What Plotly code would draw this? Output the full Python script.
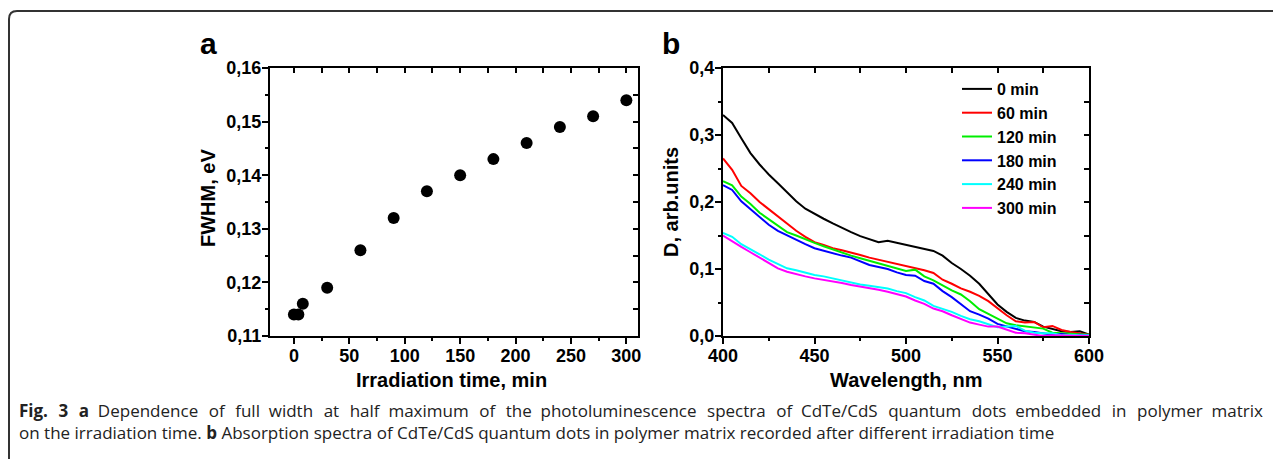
import plotly.graph_objects as go

# ---------------- data: panel a ----------------
irr_time = [0, 4, 8, 30, 60, 90, 120, 150, 180, 210, 240, 270, 300]
fwhm = [0.114, 0.114, 0.116, 0.119, 0.126, 0.132, 0.137, 0.140, 0.143, 0.146, 0.149, 0.151, 0.154]

# ---------------- data: panel b ----------------
wavelength = [400, 405, 410, 415, 420, 425, 430, 435, 440, 445, 450, 455, 460, 465, 470,
              475, 480, 485, 490, 495, 500, 505, 510, 515, 520, 525, 530, 535, 540, 545,
              550, 555, 560, 565, 570, 575, 580, 585, 590, 595, 600]
d_0min = [0.330, 0.318, 0.295, 0.273, 0.256, 0.241, 0.228, 0.215, 0.201, 0.190, 0.182, 0.175,
          0.168, 0.161, 0.155, 0.149, 0.144, 0.140, 0.142, 0.139, 0.136, 0.134, 0.130, 0.127,
          0.120, 0.109, 0.100, 0.090, 0.078, 0.063, 0.047, 0.036, 0.027, 0.023, 0.021, 0.014,
          0.011, 0.007, 0.006, 0.007, 0.002]
d_60min = [0.265, 0.248, 0.224, 0.213, 0.200, 0.189, 0.178, 0.167, 0.157, 0.148, 0.140, 0.136,
           0.131, 0.128, 0.125, 0.121, 0.117, 0.114, 0.111, 0.107, 0.104, 0.102, 0.098, 0.094,
           0.084, 0.078, 0.071, 0.066, 0.060, 0.052, 0.041, 0.031, 0.022, 0.020, 0.021, 0.013,
           0.015, 0.009, 0.006, 0.004, 0.002]
d_120min = [0.231, 0.225, 0.208, 0.197, 0.184, 0.174, 0.164, 0.155, 0.150, 0.144, 0.139, 0.134,
            0.129, 0.125, 0.120, 0.116, 0.112, 0.108, 0.105, 0.100, 0.097, 0.099, 0.089, 0.083,
            0.075, 0.068, 0.062, 0.052, 0.040, 0.033, 0.025, 0.019, 0.016, 0.014, 0.013, 0.011,
            0.005, 0.004, 0.004, 0.003, 0.002]
d_180min = [0.225, 0.218, 0.201, 0.189, 0.177, 0.166, 0.157, 0.150, 0.144, 0.137, 0.131, 0.127,
            0.124, 0.120, 0.117, 0.112, 0.106, 0.103, 0.100, 0.095, 0.091, 0.090, 0.082, 0.078,
            0.067, 0.058, 0.048, 0.037, 0.032, 0.026, 0.018, 0.014, 0.011, 0.007, 0.006, 0.004,
            0.002, 0.003, 0.001, 0.002, 0.001]
d_240min = [0.154, 0.148, 0.137, 0.130, 0.122, 0.114, 0.107, 0.101, 0.098, 0.094, 0.091, 0.089,
            0.086, 0.083, 0.079, 0.077, 0.075, 0.073, 0.071, 0.067, 0.064, 0.058, 0.053, 0.045,
            0.041, 0.036, 0.030, 0.025, 0.022, 0.017, 0.013, 0.014, 0.015, 0.008, 0.005, 0.004,
            0.004, 0.001, 0.002, 0.001, 0.001]
d_300min = [0.150, 0.141, 0.133, 0.125, 0.117, 0.108, 0.101, 0.096, 0.092, 0.089, 0.086, 0.084,
            0.081, 0.079, 0.076, 0.074, 0.071, 0.069, 0.066, 0.062, 0.059, 0.053, 0.048, 0.041,
            0.037, 0.031, 0.026, 0.020, 0.017, 0.014, 0.014, 0.009, 0.005, 0.004, 0.002, 0.000,
            0.001, 0.001, 0.000, 0.001, 0.000]

series_names = ["0 min", "60 min", "120 min", "180 min", "240 min", "300 min"]
series_values = [d_0min, d_60min, d_120min, d_180min, d_240min, d_300min]
series_colors = ["#000000", "#ff0000", "#00ee00", "#0000ff", "#00ffff", "#ff00ff"]

caption1_bold_words = ["Fig.", "3", "a"]
caption1_words = ["Dependence", "of", "full", "width", "at", "half", "maximum", "of", "the",
                  "photoluminescence", "spectra", "of", "CdTe/CdS", "quantum", "dots",
                  "embedded", "in", "polymer", "matrix"]
caption_line2 = ("on the irradiation time. <b>b</b> Absorption spectra of CdTe/CdS quantum dots in "
                 "polymer matrix recorded after different irradiation time")

W, H = 1281, 459
OX, OY = 8, 8  # page body offset


def px(x):
    return (x - OX) / W


def py(y):
    return 1 - (y - OY) / H


AX_FONT = dict(family="Liberation Sans, Arial, sans-serif", size=18, color="black", weight="bold")
TITLE_FONT = dict(family="Liberation Sans, Arial, sans-serif", size=20, color="black", weight="bold")

fig = go.Figure()

fig.add_trace(go.Scatter(x=irr_time, y=fwhm, mode="markers", showlegend=False,
                         marker=dict(size=12, color="black"), xaxis="x", yaxis="y"))
# dummy traces for mirrored (top / right) axes
fig.add_trace(go.Scatter(x=[None], y=[None], showlegend=False, hoverinfo="skip",
                         xaxis="x3", yaxis="y3"))
fig.add_trace(go.Scatter(x=[None], y=[None], showlegend=False, hoverinfo="skip",
                         xaxis="x4", yaxis="y4"))

for name, vals, col in zip(series_names, series_values, series_colors):
    fig.add_trace(go.Scatter(x=wavelength, y=vals, mode="lines", name=name,
                             line=dict(color=col, width=2), xaxis="x2", yaxis="y2"))

xa_dom = [px(270), px(638)]
xb_dom = [px(723), px(1089)]
y_dom = [py(336), py(68)]
xa_rng = [-21.6, 310.5]
ya_rng = [0.11, 0.16]
xb_rng = [400, 600]
yb_rng = [0, 0.4]

common = dict(showline=True, linecolor="black", linewidth=2, showgrid=False, zeroline=False,
              tickcolor="black", tickwidth=2, tickfont=AX_FONT, automargin=False)
mirror = dict(showticklabels=False, showline=True, linecolor="black", linewidth=2,
              tickcolor="black", tickwidth=2, showgrid=False, zeroline=False, automargin=False)

fig.update_layout(
    width=W, height=H, autosize=False,
    margin=dict(l=0, r=0, t=0, b=0, pad=0, autoexpand=False),
    paper_bgcolor="white", plot_bgcolor="white",
    separators=", ",
    xaxis=dict(domain=xa_dom, range=xa_rng, anchor="y", ticks="outside", ticklen=6,
               tickmode="linear", tick0=0, dtick=50, ticklabelstandoff=-4,
               minor=dict(ticks="outside", ticklen=3, dtick=25, tickcolor="black", tickwidth=2),
               **common),
    yaxis=dict(domain=y_dom, range=ya_rng, anchor="x", ticks="outside", ticklen=6,
               tickmode="linear", tick0=0.11, dtick=0.01, tickformat=".2f", ticklabelstandoff=-3,
               minor=dict(ticks="outside", ticklen=3, dtick=0.005, tickcolor="black", tickwidth=2),
               **common),
    xaxis3=dict(domain=xa_dom, range=xa_rng, anchor="y3", side="top", overlaying="x",
                ticks="inside", ticklen=5, tickmode="linear", tick0=0, dtick=25, **mirror),
    yaxis3=dict(domain=y_dom, range=ya_rng, anchor="x3", side="right", overlaying="y",
                ticks="inside", ticklen=5, tickmode="linear", tick0=0.11, dtick=0.005, **mirror),
    xaxis2=dict(domain=xb_dom, range=xb_rng, anchor="y2", ticks="outside", ticklen=6,
                tickmode="linear", tick0=400, dtick=50, ticklabelstandoff=-4,
                minor=dict(ticks="outside", ticklen=3, dtick=25, tickcolor="black", tickwidth=2),
                **common),
    yaxis2=dict(domain=y_dom, range=yb_rng, anchor="x2", ticks="outside", ticklen=6,
                tickmode="linear", tick0=0, dtick=0.1, tickformat=".1f", ticklabelstandoff=-3,
                minor=dict(ticks="outside", ticklen=3, dtick=0.05, tickcolor="black", tickwidth=2),
                **common),
    xaxis4=dict(domain=xb_dom, range=xb_rng, anchor="y4", side="top", overlaying="x2",
                ticks="inside", ticklen=5, tickmode="linear", tick0=400, dtick=25, **mirror),
    yaxis4=dict(domain=y_dom, range=yb_rng, anchor="x4", side="right", overlaying="y2",
                ticks="inside", ticklen=5, tickmode="linear", tick0=0, dtick=0.05, **mirror),
    legend=dict(x=px(957), y=py(72), xanchor="left", yanchor="top",
                bgcolor="rgba(0,0,0,0)", borderwidth=0,
                font=dict(family="Liberation Sans, Arial, sans-serif", size=16,
                          color="black", weight="bold"),
                tracegroupgap=0),
)

annos = [
    dict(text="a", x=px(208), y=py(44)),
    dict(text="b", x=px(671), y=py(44)),
]
for a in annos:
    fig.add_annotation(text=a["text"], x=a["x"], y=a["y"], xref="paper", yref="paper",
                       showarrow=False, xanchor="center", yanchor="middle",
                       font=dict(family="Liberation Sans, Arial, sans-serif", size=30,
                                 color="black", weight="bold"))

titles = [
    ("FWHM, eV", 208, 198, -90),
    ("Irradiation time, min", 451, 380, 0),
    ("D, arb.units", 671, 202, -90),
    ("Wavelength, nm", 906, 380, 0),
]
for t, xx, yy, ang in titles:
    fig.add_annotation(text=t, x=px(xx), y=py(yy), xref="paper", yref="paper",
                       showarrow=False, xanchor="center", yanchor="middle", textangle=ang,
                       font=TITLE_FONT)

# justified first caption line: widen the word gaps
all_words = caption1_bold_words + caption1_words
gaps = [" \u00a0\u200a" if i % 3 != 2 else " \u00a0" for i in range(len(all_words) - 1)]
nb = len(caption1_bold_words)
line1 = "<b>" + all_words[0]
for i in range(1, len(all_words)):
    if i == nb:
        line1 += "</b>"
    line1 += gaps[i - 1] + all_words[i]

for line, yy in [(line1, 410), (caption_line2, 432)]:
    fig.add_annotation(text=line, x=px(17), y=py(yy), xref="paper", yref="paper",
                       showarrow=False, xanchor="left", yanchor="middle", align="left",
                       font=dict(family="Open Sans, sans-serif", size=17, color="#222222"))

# rounded frame (left side and top)
r = 8
x0, y0 = 9, 11
path = (f"M {px(x0)},{py(470)} L {px(x0)},{py(y0 + r)} "
        f"Q {px(x0)},{py(y0)} {px(x0 + r)},{py(y0)} "
        f"L {px(1290)},{py(y0)}")
fig.add_shape(type="path", path=path, xref="paper", yref="paper",
              line=dict(color="#333333", width=2))

fig.write_html("out.html")
